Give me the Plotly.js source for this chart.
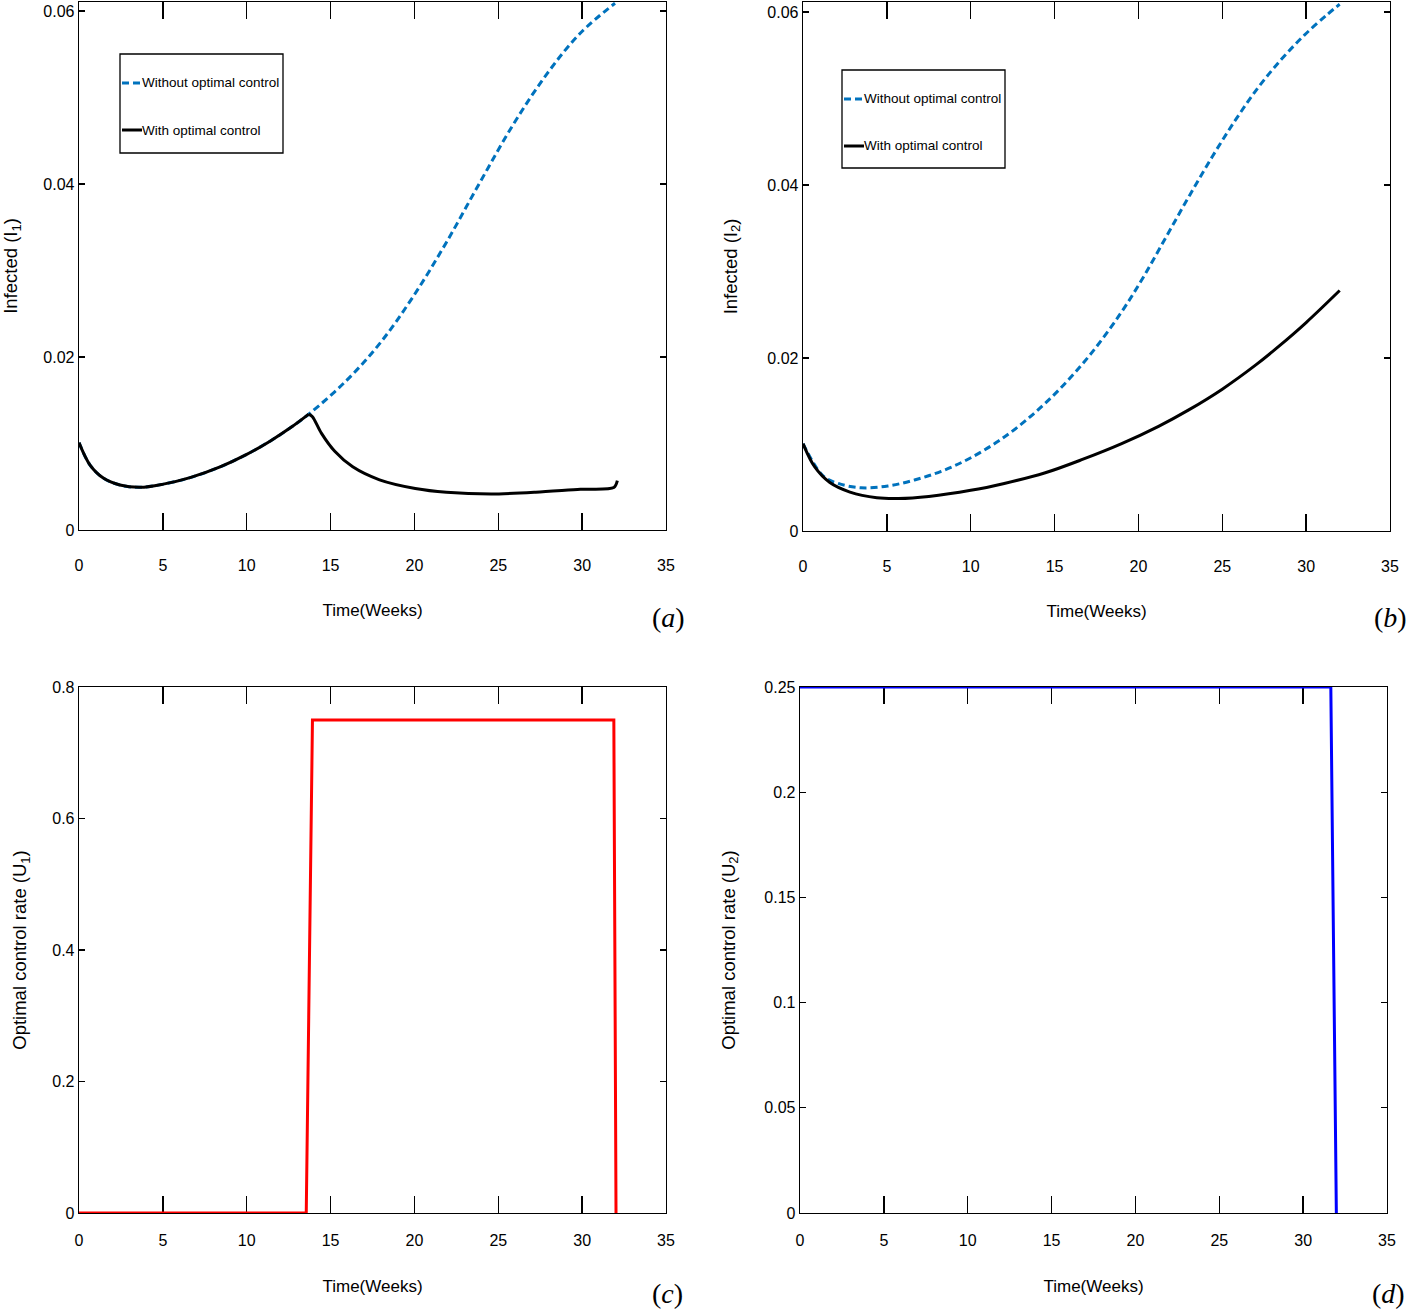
<!DOCTYPE html>
<html>
<head>
<meta charset="utf-8">
<script src="https://cdn.plot.ly/plotly-3.0.1.min.js"></script>
<style>html,body{margin:0;padding:0;background:#fff;}#chart{width:1408px;height:1310px;}</style>
</head>
<body>
<div id="chart"></div>
<script>
// ---------------- data ----------------
// Panel (a): Infected I1
const tA_with = [0, 0.66, 1.45, 2.44, 3.64, 5.03, 6.62, 8.41, 10.0, 11.39, 12.58, 13.7, 13.92, 14.45, 15.25, 16.32, 17.92, 20.05, 21.91, 24.57, 27.23, 29.9, 31.89, 32.1];
const I1_with = [0.0101, 0.0075, 0.0060, 0.0052, 0.00493, 0.0053, 0.00605, 0.00729, 0.00874, 0.01027, 0.01178, 0.0134, 0.0131, 0.0112, 0.0091, 0.0073, 0.0058, 0.0048, 0.00436, 0.00416, 0.00436, 0.0047, 0.0049, 0.0057];
const peakIndexA = 11;
const tA_without = [0, 0.66, 1.45, 2.44, 3.64, 5.03, 6.62, 8.41, 10.0, 11.39, 12.58, 13.77, 15.96, 17.95, 19.93, 21.92, 23.91, 25.9, 27.89, 29.87, 31.96];
const I1_without = [0.0101, 0.0075, 0.0060, 0.0052, 0.00493, 0.0053, 0.00605, 0.00729, 0.00874, 0.01027, 0.01178, 0.0135, 0.0173, 0.0216, 0.0270, 0.0333, 0.0402, 0.0469, 0.0527, 0.0574, 0.0609];

// Panel (b): Infected I2
const tB_with = [0, 0.7, 1.6, 2.8, 4.4, 5.7, 7.5, 10, 12, 14.4, 16.7, 19, 21.2, 23, 25, 27, 28.4, 30, 32];
const I2_with = [0.0101, 0.0074, 0.0056, 0.0045, 0.00385, 0.00376, 0.0040, 0.0047, 0.0055, 0.0067, 0.0083, 0.0101, 0.0121, 0.0140, 0.0164, 0.0192, 0.0214, 0.0241, 0.0278];
const tB_without = [0, 1.18, 2.1, 3.46, 5.06, 6.65, 8.24, 9.84, 11.66, 13.48, 15.3, 17.13, 18.95, 20.31, 21.68, 23.05, 24.41, 25.78, 27.15, 28.51, 29.88, 31.25, 32];
const I2_without = [0.0101, 0.0064, 0.0055, 0.0050, 0.0052, 0.0059, 0.0069, 0.0083, 0.0104, 0.0131, 0.0164, 0.0204, 0.0252, 0.0294, 0.0341, 0.0388, 0.0433, 0.0475, 0.0513, 0.0545, 0.0573, 0.0597, 0.0609];

// Panel (c): control U1
const tC = [0, 13.55, 13.92, 31.89, 32.02];
const U1 = [0, 0, 0.75, 0.75, 0];

// Panel (d): control U2
const tD = [0, 31.65, 31.98];
const U2 = [0.25, 0.25, 0];

// ticks
const xTicks = [0, 5, 10, 15, 20, 25, 30, 35];
const xTickText = ['0', '5', '10', '15', '20', '25', '30', '35'];
const yTicksI = [0, 0.02, 0.04, 0.06];
const yTickTextI = ['0', '0.02', '0.04', '0.06'];
const yTicksU1 = [0, 0.2, 0.4, 0.6, 0.8];
const yTickTextU1 = ['0', '0.2', '0.4', '0.6', '0.8'];
const yTicksU2 = [0, 0.05, 0.1, 0.15, 0.2, 0.25];
const yTickTextU2 = ['0', '0.05', '0.1', '0.15', '0.2', '0.25'];

const legendLabels = ['Without optimal control', 'With optimal control'];
const xTitle = 'Time(Weeks)';
const yTitles = ['Infected (I<sub>1</sub>)', 'Infected (I<sub>2</sub>)', 'Optimal control rate (U<sub>1</sub>)', 'Optimal control rate (U<sub>2</sub>)'];
const panelLabels = ['(<i>a</i>)', '(<i>b</i>)', '(<i>c</i>)', '(<i>d</i>)'];

// ---------------- styling ----------------
const W = 1408, H = 1310;
const px = x => x / W;
const py = y => 1 - y / H;
const SANS = 'Liberation Sans, Arial, sans-serif';
const SERIF = 'Liberation Serif, Times New Roman, serif';
const BLUE = '#0072bd';
const DASH = '7px,4px';

const traces = [
  {x: tA_without, y: I1_without, xaxis: 'x', yaxis: 'y', mode: 'lines', line: {color: BLUE, width: 3, dash: DASH, shape: 'spline', smoothing: 1}, name: legendLabels[0], showlegend: false},
  {x: tA_with.slice(0, peakIndexA + 1), y: I1_with.slice(0, peakIndexA + 1), xaxis: 'x', yaxis: 'y', mode: 'lines', line: {color: '#000', width: 3, shape: 'spline', smoothing: 1}, name: legendLabels[1], showlegend: false},
  {x: tA_with.slice(peakIndexA), y: I1_with.slice(peakIndexA), xaxis: 'x', yaxis: 'y', mode: 'lines', line: {color: '#000', width: 3, shape: 'spline', smoothing: 0.8}, name: legendLabels[1], showlegend: false},
  {x: tB_without, y: I2_without, xaxis: 'x2', yaxis: 'y2', mode: 'lines', line: {color: BLUE, width: 3, dash: DASH, shape: 'spline', smoothing: 1}, name: legendLabels[0], showlegend: false},
  {x: tB_with, y: I2_with, xaxis: 'x2', yaxis: 'y2', mode: 'lines', line: {color: '#000', width: 3, shape: 'spline', smoothing: 1}, name: legendLabels[1], showlegend: false},
  {x: tC, y: U1, xaxis: 'x3', yaxis: 'y3', mode: 'lines', line: {color: '#ff0000', width: 3}, cliponaxis: false, showlegend: false},
  {x: tD, y: U2, xaxis: 'x4', yaxis: 'y4', mode: 'lines', line: {color: '#0000ff', width: 3}, cliponaxis: false, showlegend: false}
];

function xAxis(l, r, anchor, lblStand, titleStand) {
  return {
    domain: [px(l), px(r)], anchor: anchor, range: [0, 35],
    tickmode: 'array', tickvals: xTicks, ticktext: xTickText,
    ticks: 'inside', ticklen: 17, tickwidth: 1.3, tickcolor: '#000',
    showline: true, linecolor: '#000', linewidth: 1.3, mirror: 'ticks',
    showgrid: false, zeroline: false, layer: 'below traces',
    tickfont: {family: SANS, size: 16, color: '#000'},
    ticklabelstandoff: lblStand,
    title: {text: xTitle, font: {family: SANS, size: 17, color: '#000'}, standoff: titleStand},
    fixedrange: true
  };
}
function yAxis(top, bottom, anchor, range, vals, text, title, titleStand) {
  return {
    domain: [py(bottom), py(top)], anchor: anchor, range: range,
    tickmode: 'array', tickvals: vals, ticktext: text,
    ticks: 'inside', ticklen: 6, tickwidth: 1.3, tickcolor: '#000',
    showline: true, linecolor: '#000', linewidth: 1.3, mirror: 'ticks',
    showgrid: false, zeroline: false, layer: 'below traces',
    tickfont: {family: SANS, size: 16, color: '#000'},
    title: {text: title, font: {family: SANS, size: 18.5, color: '#000'}, standoff: titleStand},
    fixedrange: true
  };
}

// manual legends
function legendBox(x0, y0, x1, y1, lineY1, lineY2, lx0, lx1) {
  return {
    shapes: [
      {type: 'rect', xref: 'paper', yref: 'paper', x0: px(x0), x1: px(x1), y0: py(y1), y1: py(y0), line: {color: '#000', width: 1.3}, fillcolor: '#fff', layer: 'above'},
      {type: 'line', xref: 'paper', yref: 'paper', x0: px(lx0), x1: px(lx1), y0: py(lineY1), y1: py(lineY1), line: {color: BLUE, width: 3, dash: DASH}},
      {type: 'line', xref: 'paper', yref: 'paper', x0: px(lx0), x1: px(lx1), y0: py(lineY2), y1: py(lineY2), line: {color: '#000', width: 3}}
    ],
    annotations: [
      {xref: 'paper', yref: 'paper', x: px(lx1), y: py(lineY1), text: legendLabels[0], showarrow: false, xanchor: 'left', yanchor: 'middle', font: {family: SANS, size: 13.5, color: '#000'}, xshift: -2},
      {xref: 'paper', yref: 'paper', x: px(lx1), y: py(lineY2), text: legendLabels[1], showarrow: false, xanchor: 'left', yanchor: 'middle', font: {family: SANS, size: 13.5, color: '#000'}, xshift: -2}
    ]
  };
}
const legA = legendBox(120, 54, 283, 153, 83, 130, 122, 142);
const legB = legendBox(842, 70, 1005, 168, 99, 146, 844, 864);

const labelAnn = [
  [668, 617], [1390, 617], [667, 1293], [1388, 1293]
].map((p, i) => ({xref: 'paper', yref: 'paper', x: px(p[0]), y: py(p[1]), text: panelLabels[i], showarrow: false, xanchor: 'center', yanchor: 'middle', font: {family: SERIF, size: 28, color: '#000'}}));

const layout = {
  width: W, height: H,
  margin: {l: 0, r: 0, t: 0, b: 0},
  paper_bgcolor: '#fff', plot_bgcolor: '#fff',
  showlegend: false,
  xaxis: xAxis(79, 666, 'y', 20, 31),
  yaxis: yAxis(2, 530, 'x', [0, 0.06104], yTicksI, yTickTextI, yTitles[0], 40),
  xaxis2: xAxis(803, 1390, 'y2', 20, 31),
  yaxis2: yAxis(2, 531, 'x2', [0, 0.06116], yTicksI, yTickTextI, yTitles[1], 25),
  xaxis3: xAxis(79, 666, 'y3', 12, 32),
  yaxis3: yAxis(687, 1213, 'x3', [0, 0.8], yTicksU1, yTickTextU1, yTitles[2], 20),
  xaxis4: xAxis(800, 1387, 'y4', 12, 32),
  yaxis4: yAxis(687, 1213, 'x4', [0, 0.25], yTicksU2, yTickTextU2, yTitles[3], 24),
  shapes: legA.shapes.concat(legB.shapes),
  annotations: legA.annotations.concat(legB.annotations, labelAnn)
};

Plotly.newPlot('chart', traces, layout, {staticPlot: true, displayModeBar: false});
</script>
</body>
</html>
